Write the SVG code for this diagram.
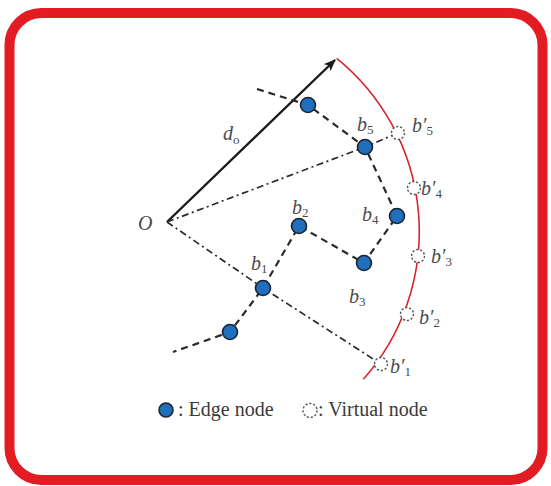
<svg xmlns="http://www.w3.org/2000/svg" width="551" height="486" viewBox="0 0 551 486">
<style>
.frame{fill:#fff;stroke:#e31b23;stroke-width:10}
.arc{fill:none;stroke:#d8262f;stroke-width:1.6}
.dash{fill:none;stroke:#2b2b2b;stroke-width:2.2;stroke-dasharray:7 5}
.dd{fill:none;stroke:#2b2b2b;stroke-width:1.7;stroke-dasharray:7 3.5 2 3.5}
.axis{fill:none;stroke:#1a1a1a;stroke-width:2.4}
.edge{fill:#1f6fbd;stroke:#1a2433;stroke-width:1.6}
.virt{fill:#fff;stroke:#555;stroke-width:1.4;stroke-dasharray:2.2 1.8}
.lbl{font-family:"Liberation Serif","Times New Roman","DejaVu Serif",serif;font-style:italic;font-size:20px;fill:#4a4a4a}
.sub{font-size:13px;font-style:normal}
.leg{font-family:"Liberation Serif","Times New Roman","DejaVu Serif",serif;font-size:20px;fill:#3a3a3a}
</style>
<defs>
<marker id="ah" viewBox="0 0 12 10" refX="11" refY="5" markerWidth="12" markerHeight="10" markerUnits="userSpaceOnUse" orient="auto">
<path d="M0,0 L12,5 L0,10 L3,5 Z" fill="#1a1a1a"/>
</marker>
</defs>
<rect class="frame" x="9.5" y="13" width="533" height="467" rx="32" ry="32"/>
<path class="arc" d="M336.7,58.3 A223,223 0 0 1 363.3,379.3"/>
<g id="connectors">
<line class="axis" x1="167" y1="222" x2="335" y2="60" marker-end="url(#ah)"/>
<polyline class="dd" points="167,222 365,147 398,133"/>
<polyline class="dd" points="167,222 263,288 381,364"/>
<polyline class="dash" points="257,89 308,105 365,147 397,216 364,263 299,226 263,288 230,332 173,352"/>
</g>
<g id="O"><text class="lbl" x="138" y="230" font-size="21">O</text></g>
<g id="do"><text class="lbl" x="223" y="140">d<tspan class="sub" dy="4">o</tspan></text></g>
<g id="n0"><circle class="edge" cx="308" cy="105" r="7.5"/></g>
<g id="b5"><circle class="edge" cx="365" cy="147" r="7.5"/><text class="lbl" x="357" y="131">b<tspan class="sub" dy="3">5</tspan></text></g>
<g id="b4"><circle class="edge" cx="397" cy="216" r="7.5"/><text class="lbl" x="362" y="221">b<tspan class="sub" dy="3">4</tspan></text></g>
<g id="b3"><circle class="edge" cx="364" cy="263" r="7.5"/><text class="lbl" x="349" y="303">b<tspan class="sub" dy="3">3</tspan></text></g>
<g id="b2"><circle class="edge" cx="299" cy="226" r="7.5"/><text class="lbl" x="292" y="214">b<tspan class="sub" dy="3">2</tspan></text></g>
<g id="b1"><circle class="edge" cx="263" cy="288" r="7.5"/><text class="lbl" x="251" y="270">b<tspan class="sub" dy="3">1</tspan></text></g>
<g id="n6"><circle class="edge" cx="230" cy="332" r="7.5"/></g>
<g id="vb5"><circle class="virt" cx="398" cy="133" r="6.5"/><text class="lbl" x="412" y="132">b′<tspan class="sub" dy="3">5</tspan></text></g>
<g id="vb4"><circle class="virt" cx="414" cy="188" r="6.5"/><text class="lbl" x="421" y="195">b′<tspan class="sub" dy="3">4</tspan></text></g>
<g id="vb3"><circle class="virt" cx="418" cy="256" r="6.5"/><text class="lbl" x="431" y="263">b′<tspan class="sub" dy="3">3</tspan></text></g>
<g id="vb2"><circle class="virt" cx="407" cy="314" r="6.5"/><text class="lbl" x="419" y="324">b′<tspan class="sub" dy="3">2</tspan></text></g>
<g id="vb1"><circle class="virt" cx="381" cy="364" r="6.5"/><text class="lbl" x="390" y="373">b′<tspan class="sub" dy="3">1</tspan></text></g>
<g id="legend">
<circle class="edge" cx="166" cy="410" r="7"/>
<text class="leg" x="178" y="416">: Edge node</text>
<circle class="virt" cx="310" cy="410.5" r="7"/>
<text class="leg" x="318" y="416">: Virtual node</text>
</g>
</svg>
